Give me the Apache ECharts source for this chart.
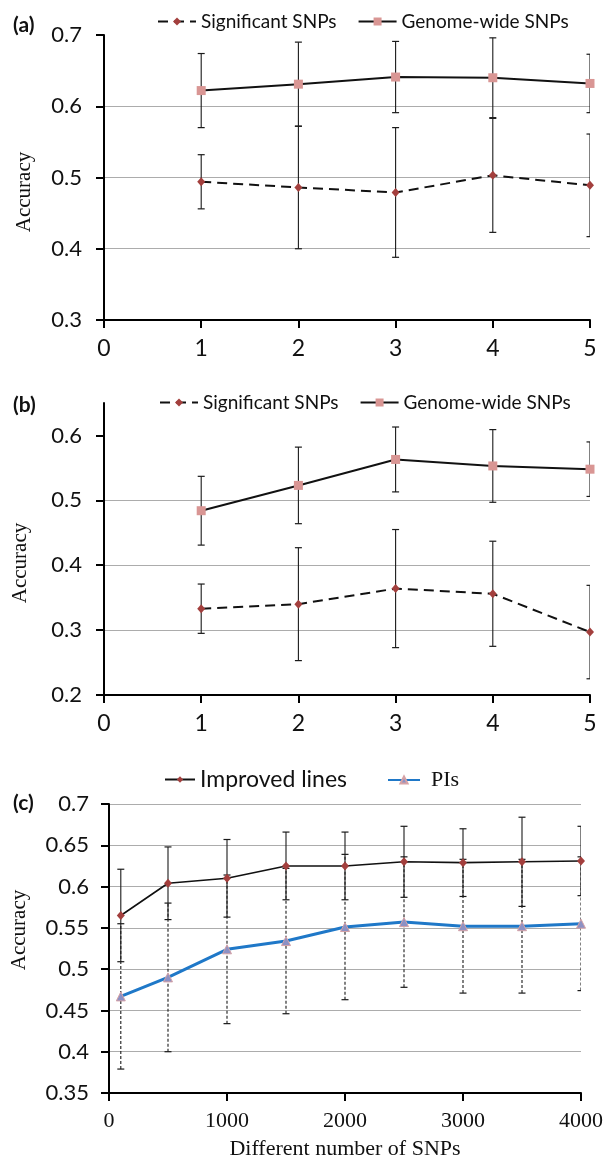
<!DOCTYPE html>
<html>
<head>
<meta charset="utf-8">
<script src="https://cdn.jsdelivr.net/npm/echarts@6/dist/echarts.min.js"></script>
<style>
html,body{margin:0;padding:0;background:#fff;}
#chart{width:606px;height:1161px;}
</style>
</head>
<body>
<div id="chart"></div>
<script>
// ---------- DATA ----------
const abXTicks = [0, 1, 2, 3, 4, 5];
const aYTicks = [0.3, 0.4, 0.5, 0.6, 0.7];
const bYTicks = [0.2, 0.3, 0.4, 0.5, 0.6];
const cXTicks = [0, 1000, 2000, 3000, 4000];
const cYTicks = [0.35, 0.4, 0.45, 0.5, 0.55, 0.6, 0.65, 0.7];

const aX = [1, 2, 3, 4, 5];
const aSigMean = [0.494, 0.486, 0.479, 0.503, 0.489];
const aSigErr  = [0.038, 0.086, 0.091, 0.080, 0.072];
const aGenMean = [0.622, 0.631, 0.641, 0.640, 0.632];
const aGenErr  = [0.052, 0.059, 0.050, 0.056, 0.041];

const bX = [1, 2, 3, 4, 5];
const bSigMean = [0.333, 0.340, 0.364, 0.356, 0.297];
const bSigErr  = [0.038, 0.087, 0.091, 0.081, 0.072];
const bGenMean = [0.484, 0.523, 0.563, 0.553, 0.548];
const bGenErr  = [0.053, 0.059, 0.050, 0.056, 0.042];

const cX = [100, 500, 1000, 1500, 2000, 2500, 3000, 3500, 4000];
const cImpMean = [0.565, 0.604, 0.610, 0.625, 0.625, 0.630, 0.629, 0.630, 0.631];
const cImpErr  = [0.056, 0.044, 0.047, 0.041, 0.041, 0.043, 0.041, 0.054, 0.042];
const cPIMean  = [0.467, 0.490, 0.524, 0.534, 0.551, 0.557, 0.552, 0.552, 0.555];
const cPIErr   = [0.088, 0.090, 0.090, 0.088, 0.088, 0.079, 0.081, 0.081, 0.081];

// ---------- HELPERS ----------
const SANS = 'Lato';
const SERIF = 'Liberation Serif';
const RED = '#a33f3d';
const PINK = '#d99694';
const BLUE = '#1f78c8';

function pts(xs, ys) { return xs.map((x, i) => [x, ys[i]]); }

function errSeries(xs, means, errs, idx, dashed) {
  return {
    type: 'custom',
    xAxisIndex: idx, yAxisIndex: idx,
    clip: true,
    z: 2,
    silent: true,
    data: xs.map((x, i) => [x, means[i] - errs[i], means[i] + errs[i]]),
    encode: { x: 0, y: [1, 2] },
    renderItem: function (params, api) {
      const lo = api.coord([api.value(0), api.value(1)]);
      const hi = api.coord([api.value(0), api.value(2)]);
      const w = 3.5;
      const vStyle = { stroke: '#1a1a1a', lineWidth: 1.1, lineDash: dashed ? [3, 2] : null };
      const cStyle = { stroke: '#1a1a1a', lineWidth: 1.2 };
      return {
        type: 'group',
        children: [
          { type: 'line', shape: { x1: lo[0], y1: lo[1], x2: hi[0], y2: hi[1] }, style: vStyle },
          { type: 'line', shape: { x1: lo[0] - w, y1: lo[1], x2: lo[0] + w, y2: lo[1] }, style: cStyle },
          { type: 'line', shape: { x1: hi[0] - w, y1: hi[1], x2: hi[0] + w, y2: hi[1] }, style: cStyle }
        ]
      };
    }
  };
}

function xAxisCfg(idx, ticks, fontFamily, fontSize, name) {
  const a = {
    type: 'value', gridIndex: idx,
    min: ticks[0], max: ticks[ticks.length - 1], interval: ticks[1] - ticks[0],
    axisLine: { show: true, onZero: false, lineStyle: { color: '#000', width: 2 } },
    axisTick: { show: true, inside: false, length: 8, lineStyle: { color: '#000', width: 2 } },
    splitLine: { show: false },
    axisLabel: { show: true, margin: 17, fontFamily: fontFamily, fontSize: fontSize, color: '#111',
                 showMinLabel: true, showMaxLabel: true, formatter: function (v) { return String(v); } }
  };
  if (name) {
    a.name = name;
    a.nameLocation = 'middle';
    a.nameGap = 45;
    a.nameTextStyle = { fontFamily: SERIF, fontSize: 22, color: '#111' };
  }
  return a;
}

function yAxisCfg(idx, ticks, max, showMaxLine, margin) {
  return {
    type: 'value', gridIndex: idx,
    min: ticks[0], max: max, interval: ticks[1] - ticks[0],
    axisLine: { show: true, onZero: false, lineStyle: { color: '#000', width: 2 } },
    axisTick: { show: true, inside: false, length: 8, customValues: ticks, lineStyle: { color: '#000', width: 2 } },
    splitLine: { show: true, showMinLine: false, showMaxLine: showMaxLine, lineStyle: { color: '#acacac', width: 1.2 } },
    axisLabel: { show: true, margin: margin, customValues: ticks, fontFamily: SANS, fontSize: 22, color: '#111',
                 formatter: function (v) { return String(v); } }
  };
}

function panelTag(txt, x, y) {
  return { type: 'text', x: x, y: y, z: 10,
    style: { text: txt, font: 'bold 21px Lato', fill: '#111',
             align: 'left', verticalAlign: 'middle' } };
}
function yTitle(x, y) {
  return { type: 'text', x: x, y: y, rotation: Math.PI / 2, z: 10,
    style: { text: 'Accuracy', font: '21px "Liberation Serif"', fill: '#111',
             align: 'center', verticalAlign: 'middle' } };
}

const sigLine = { color: '#111', width: 2, type: [10, 6] };
const genLine = { color: '#111', width: 2 };

const option = {
  animation: false,
  backgroundColor: '#fff',
  grid: [
    { left: 104, top: 35, width: 486, height: 285 },
    { left: 104, top: 403, width: 486, height: 292 },
    { left: 109, top: 804, width: 472, height: 289 }
  ],
  xAxis: [
    xAxisCfg(0, abXTicks, SANS, 23),
    xAxisCfg(1, abXTicks, SANS, 23),
    xAxisCfg(2, cXTicks, SERIF, 22, 'Different number of SNPs')
  ],
  yAxis: [
    yAxisCfg(0, aYTicks, 0.7, false, 22),
    yAxisCfg(1, bYTicks, 0.65, false, 22),
    yAxisCfg(2, cYTicks, 0.7, true, 20)
  ],
  legend: [
    { data: ['Significant SNPs', 'Genome-wide SNPs'], left: 157, top: 12, padding: 0,
      itemWidth: 38, itemHeight: 10, itemGap: 21, selectedMode: false,
      textStyle: { fontFamily: SANS, fontSize: 19, color: '#111' } },
    { data: ['Significant SNPs', 'Genome-wide SNPs'], left: 159, top: 393, padding: 0,
      itemWidth: 38, itemHeight: 10, itemGap: 21, selectedMode: false,
      textStyle: { fontFamily: SANS, fontSize: 19, color: '#111' } },
    { data: ['Improved lines'], left: 164, top: 768, padding: 0,
      itemWidth: 30, itemHeight: 8, selectedMode: false,
      textStyle: { fontFamily: SANS, fontSize: 23, color: '#111' } },
    { data: ['PIs'], left: 387, top: 769, padding: 0,
      itemWidth: 32, itemHeight: 9, selectedMode: false,
      textStyle: { fontFamily: SERIF, fontSize: 22, color: '#111', padding: [0, 0, 0, 6] } }
  ],
  graphic: [
    panelTag('(a)', 13, 25),
    panelTag('(b)', 13, 405),
    panelTag('(c)', 13, 803),
    yTitle(24, 192),
    yTitle(20, 563),
    yTitle(19, 930)
  ],
  series: [
    // panel (a)
    errSeries(aX, aSigMean, aSigErr, 0, false),
    errSeries(aX, aGenMean, aGenErr, 0, false),
    { name: 'Significant SNPs', type: 'line', xAxisIndex: 0, yAxisIndex: 0, z: 3,
      data: pts(aX, aSigMean), symbol: 'diamond', symbolSize: [8, 9],
      itemStyle: { color: RED }, lineStyle: sigLine },
    { name: 'Genome-wide SNPs', type: 'line', xAxisIndex: 0, yAxisIndex: 0, z: 3,
      data: pts(aX, aGenMean), symbol: 'rect', symbolSize: 9,
      itemStyle: { color: PINK }, lineStyle: genLine },
    // panel (b)
    errSeries(bX, bSigMean, bSigErr, 1, false),
    errSeries(bX, bGenMean, bGenErr, 1, false),
    { name: 'Significant SNPs', type: 'line', xAxisIndex: 1, yAxisIndex: 1, z: 3,
      data: pts(bX, bSigMean), symbol: 'diamond', symbolSize: [8, 9],
      itemStyle: { color: RED }, lineStyle: sigLine },
    { name: 'Genome-wide SNPs', type: 'line', xAxisIndex: 1, yAxisIndex: 1, z: 3,
      data: pts(bX, bGenMean), symbol: 'rect', symbolSize: 9,
      itemStyle: { color: PINK }, lineStyle: genLine },
    // panel (c)
    errSeries(cX, cPIMean, cPIErr, 2, true),
    errSeries(cX, cImpMean, cImpErr, 2, false),
    { name: 'Improved lines', type: 'line', xAxisIndex: 2, yAxisIndex: 2, z: 3,
      data: pts(cX, cImpMean), symbol: 'diamond', symbolSize: [8, 9],
      itemStyle: { color: RED }, lineStyle: { color: '#111', width: 1.6 } },
    { name: 'PIs', type: 'line', xAxisIndex: 2, yAxisIndex: 2, z: 3,
      data: pts(cX, cPIMean), symbol: 'triangle', symbolSize: 9,
      itemStyle: { color: '#8d91c4', borderColor: '#d6a2a6', borderWidth: 1 },
      lineStyle: { color: BLUE, width: 3 } }
  ]
};

const chart = echarts.init(document.getElementById('chart'), null, { renderer: 'canvas' });
chart.setOption(option);
</script>
</body>
</html>
